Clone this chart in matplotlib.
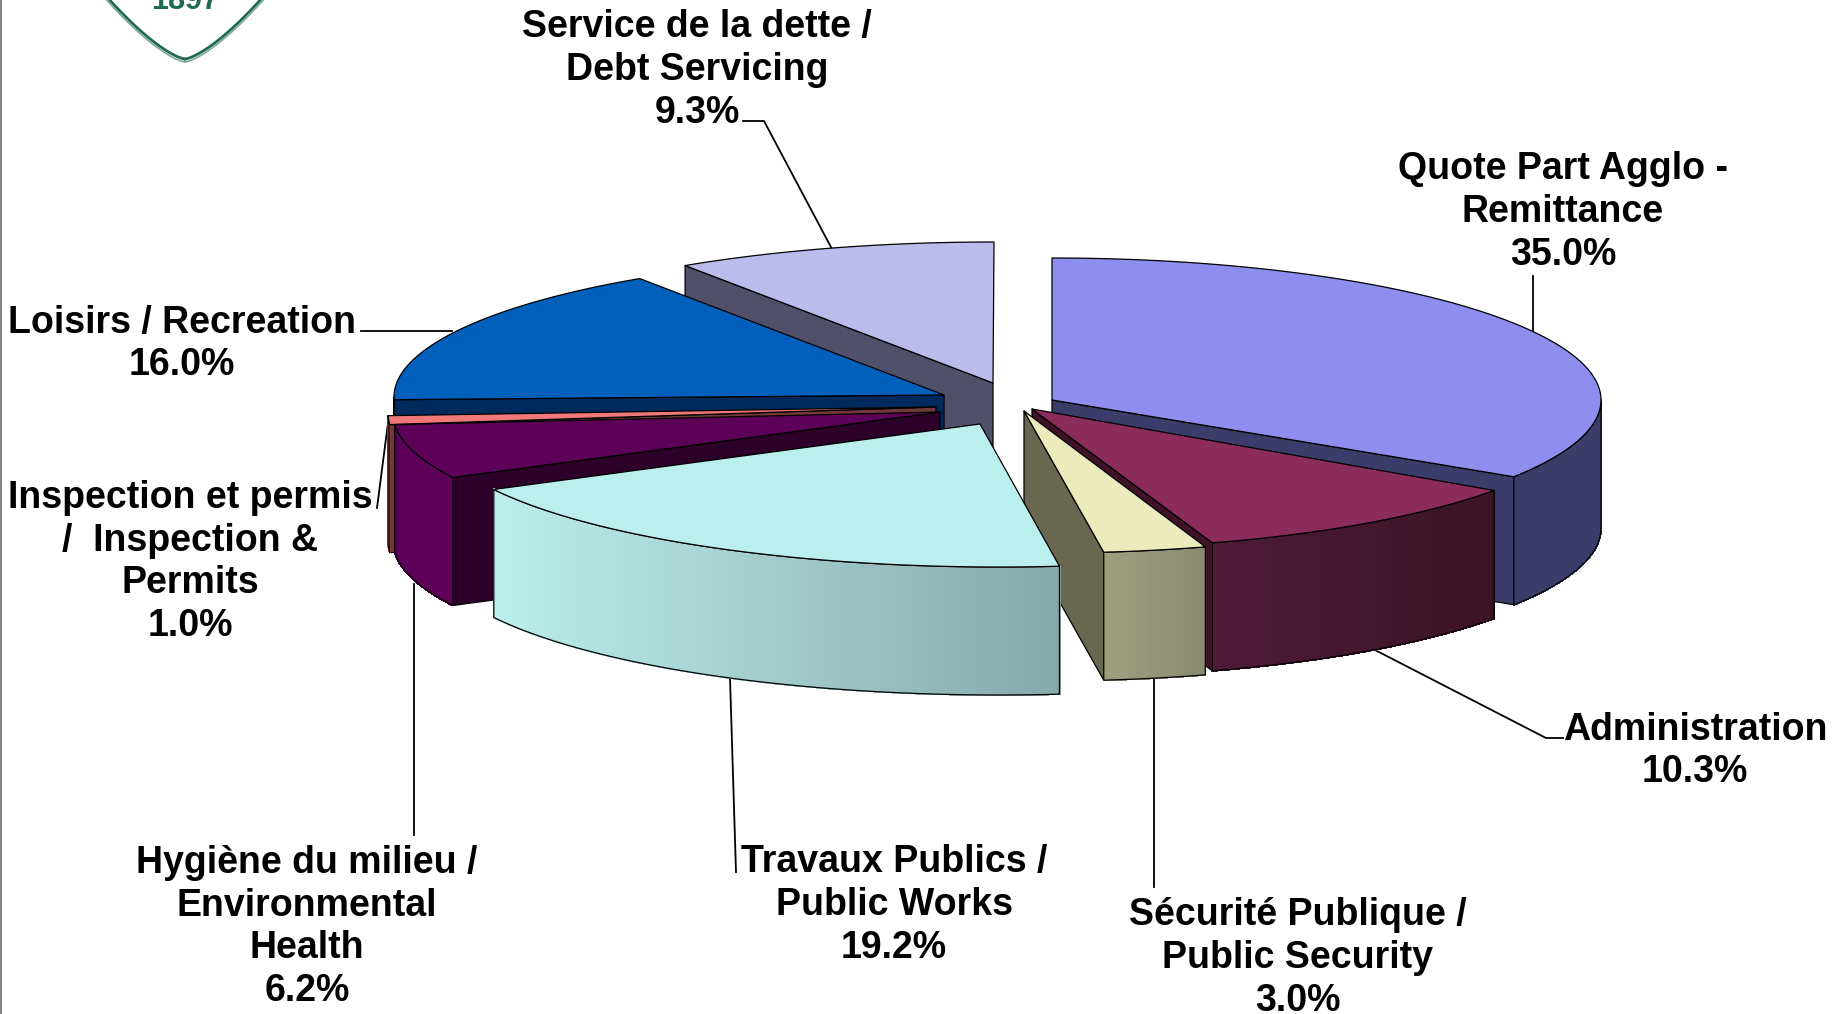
import numpy as np
import matplotlib
matplotlib.use("Agg")
import matplotlib.pyplot as plt
from matplotlib.colors import to_rgb

labels = ["Quote Part Agglo -\nRemittance", "Administration", "Sécurité Publique /\nPublic Security",
          "Travaux Publics /\nPublic Works", "Hygiène du milieu /\nEnvironmental\nHealth",
          "Inspection et permis\n/  Inspection &\nPermits", "Loisirs / Recreation",
          "Service de la dette /\nDebt Servicing"]
values = [35.0, 10.3, 3.0, 19.2, 6.2, 1.0, 16.0, 9.3]

# per-slice geometry and colours, in slice order
apex = [(1052, 400), (1032, 409), (1024, 411), (980, 424), (940, 412), (936, 407), (944, 395), (993, 383)]
centre = [(1052, 400), (1054, 407), (1045, 411), (999, 425), (943, 413), (936, 413), (942, 397), (994, 384)]
radius_x = [549, 544, 551, 567, 550, 548, 548, 560]
stretch = [0.974, 1, 1, 1, 1, 1, 1, 1]
top_col = ["#8e8eee", "#8c2c5c", "#ebebbb", "#bbeeee", "#5c0058", "#f07878", "#0060bc", "#bcbcec"]
side_left = ["#3c3c6a", "#3a1424", "#8a8a70", "#88a8a8", "#5c0058", "#e87070", "#002a5c", "#50506a"]
side_right = ["#3c3c6a", "#4e1a36", "#9f9f80", "#bbeeee", "#5c0058", "#e87070", "#002a5c", "#50506a"]
face_col = ["#3c3c6a", "#401228", "#686850", "#88a8a8", "#2c0028", "#703838", "#002a5c", "#50506a"]
draw_order = [7, 6, 5, 4, 0, 1, 2, 3]
radius_y = 142
depth = 128

label_pos = [(1563, 212), (1695, 751), (1298, 958), (894, 905), (307, 927), (190, 562), (182, 344), (697, 70)]
leaders = [[(1533, 276), (1533, 333)],
           [(1375, 650), (1546, 738), (1563, 738)],
           [(1154, 679), (1154, 887)],
           [(730, 678), (736, 872)],
           [(414, 584), (414, 835)],
           [(388, 423), (377, 508)],
           [(452, 331), (361, 331)],
           [(743, 121), (764, 121), (832, 249)]]

fig = plt.figure(figsize=(18.43, 10.14), dpi=100)
ax = fig.add_axes([0, 0, 1, 1])
ax.set_xlim(0, 1843)
ax.set_ylim(1014, 0)
ax.axis("off")
plt.rcParams["font.family"] = ["Liberation Sans", "DejaVu Sans"]

z = [10]
def poly(xs, ys, fc, ec="#000000", lw=0.9):
    z[0] += 1
    ax.fill(xs, ys, facecolor=fc, edgecolor=ec, linewidth=lw, zorder=z[0], joinstyle="round")

cum = np.concatenate([[0], np.cumsum(values)]) * 3.6

def rim(i, th):
    t = np.radians(np.asarray(th, dtype=float))
    cx, cy = centre[i]
    return cx + radius_x[i] * np.sin(t), cy - radius_y * np.cos(t)

for i in draw_order:
    th0, th1 = cum[i] * stretch[i], cum[i + 1] * stretch[i]
    ax_, ay_ = apex[i]
    # radial faces
    if th1 < 180:
        x1, y1 = rim(i, th1)
        poly([ax_, x1, x1, ax_], [ay_, y1, y1 + depth, ay_ + depth], face_col[i])
    if th0 > 180:
        x0, y0 = rim(i, th0)
        poly([ax_, x0, x0, ax_], [ay_, y0, y0 + depth, ay_ + depth], face_col[i])
    # outer wall
    a0, a1 = max(th0, 90), min(th1, 270)
    if a1 > a0:
        ts = np.linspace(a0, a1, 80)
        xs, ys = rim(i, ts)
        lo, hi = xs.min(), xs.max()
        cl, cr = np.array(to_rgb(side_right[i])), np.array(to_rgb(side_left[i]))
        for k in range(len(ts) - 1):
            f = (0.5 * (xs[k] + xs[k + 1]) - lo) / max(hi - lo, 1)
            c = tuple(cl * (1 - f) + cr * f)
            z[0] += 1
            ax.fill([xs[k], xs[k + 1], xs[k + 1], xs[k]], [ys[k], ys[k + 1], ys[k + 1] + depth, ys[k] + depth],
                    facecolor=c, edgecolor=c, linewidth=0.8, antialiased=False, zorder=z[0])
        poly(np.r_[xs, xs[::-1]], np.r_[ys, ys[::-1] + depth], "none")
    # top
    ts = np.linspace(th0, th1, 120)
    xs, ys = rim(i, ts)
    poly(np.r_[ax_, xs], np.r_[ay_, ys], top_col[i])

# leaders
for seg in leaders:
    pts = np.array(seg)
    ax.plot(pts[:, 0], pts[:, 1], color="black", lw=1.3, zorder=5)

# labels
for lab, v, (x, y) in zip(labels, values, label_pos):
    ax.text(x, y, f"{lab}\n{v:.1f}%", ha="center", va="center", fontsize=27, fontweight="bold",
            family=["Liberation Sans", "DejaVu Sans"], linespacing=1.247, color="black", zorder=5000)

# logo fragment and left frame
tt = np.linspace(0, 1, 60)
for off, col, lw in [(0, "#1f6b50", 2.0), (3, "#7fa899", 1.2)]:
    lx = 185 - (78 + off) * (1 - tt)
    ly = -3 + (62 + off) * (1 - (1 - tt) ** 1.4)
    ax.plot(lx, ly, color=col, lw=lw, zorder=3)
    ax.plot(370 - lx, ly, color=col, lw=lw, zorder=3)
ax.text(185, 9, "1897", ha="center", va="baseline", fontsize=22, fontweight="bold", color="#1f6b50",
        family=["Liberation Sans", "DejaVu Sans"], zorder=3)
ax.plot([1, 1], [0, 1014], color="#808080", lw=1.4, zorder=3)

fig.savefig("out.png", dpi=100, facecolor="white")
